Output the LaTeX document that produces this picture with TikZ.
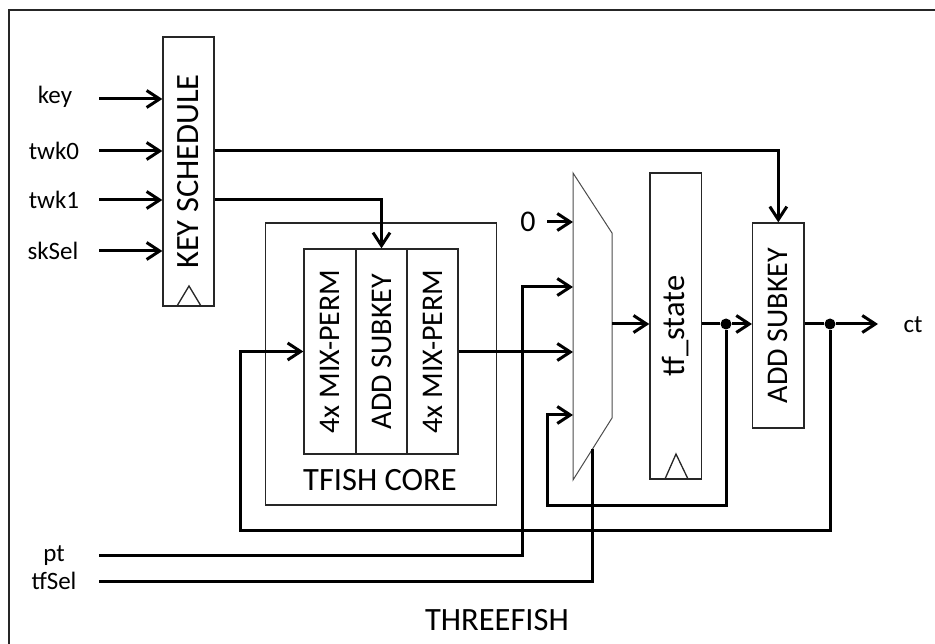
\documentclass[tikz,border=0pt]{standalone}
\usepackage{fontspec}
\setmainfont{Carlito}
\usetikzlibrary{arrows.meta}
\begin{document}
\begin{tikzpicture}[x=1pt,y=-1pt,
  box/.style={draw=black!85,line width=1.3pt,inner sep=0pt},
  thinline/.style={draw=black!85,line width=1.3pt},
  muxline/.style={draw=black!70,line width=1pt},
  wire/.style={line width=3pt},
  arr/.style={wire,-{Straight Barb[length=13pt,width=17pt]}},
  big/.style={font=\fontsize{32.5}{36}\selectfont,inner sep=0pt},
  mid/.style={font=\fontsize{30}{33}\selectfont,inner sep=0pt},
  small/.style={font=\fontsize{25}{28}\selectfont,inner sep=0pt},
  jdot/.style={circle,fill=black,inner sep=0pt,minimum size=11pt},
]
\useasboundingbox (0,0) rectangle (935,644);
% outer frame (only top and left visible)
\draw[line width=1.5pt,black!85] (935,10) -- (9,10) -- (9,644);

% key schedule
\node[box,minimum width=51pt,minimum height=269pt] (ks) at (188.5,171.5) {};
\node[big,rotate=90] (kst) at (ks.center) {KEY SCHEDULE};
\draw[thinline] (177,306) -- (189,286) -- (201,306);

% input labels
\node[small] (keyl) at (55,97) {key};
\node[small] (tw0l) at (54,151) {twk0};
\node[small] (tw1l) at (54,200) {twk1};
\node[small] (skl) at (53,251) {skSel};
\coordinate (keys) at (99,99);
\coordinate (tw0s) at (99,151);
\coordinate (tw1s) at (99,200);
\coordinate (sks) at (99,251);
\draw[arr] (keys) -- (keys -| ks.west);
\draw[arr] (tw0s) -- (tw0s -| ks.west);
\draw[arr] (tw1s) -- (tw1s -| ks.west);
\draw[arr] (sks) -- (sks -| ks.west);

% TFISH core
\node[box,minimum width=231pt,minimum height=282pt] (core) at (381.2,364) {};
\node[box,minimum width=52pt,minimum height=205pt] (c1) at (330,351.5) {};
\node[box,minimum width=51pt,minimum height=205pt] (c2) at (381.5,351.5) {};
\node[box,minimum width=51pt,minimum height=205pt] (c3) at (432.5,351.5) {};
\node[mid,rotate=90] (c1t) at (c1.center) {4x MIX-PERM};
\node[mid,rotate=90] (c2t) at (c2.center) {ADD SUBKEY};
\node[mid,rotate=90] (c3t) at (c3.center) {4x MIX-PERM};
\node[big] (coret) at (380,480) {TFISH CORE};

% mux
\draw[muxline] (573,173) -- (612,233) -- (612,418) -- (573,480) -- cycle;
\coordinate (m0) at (573,222);
\coordinate (m1) at (573,287);
\coordinate (m2) at (573,352);
\coordinate (m3) at (573,415);
\coordinate (mout) at (612,324);
\coordinate (msel) at (592,449);
\node[mid] (zero) at (528,222) {0};
\coordinate (zs) at (547,222);
\draw[arr] (zs) -- (m0);

% tf_state register
\node[box,minimum width=51.7pt,minimum height=306pt] (tf) at (675.8,326) {};
\node[big,rotate=90] (tft) at (tf.center) {tf\_state};
\draw[thinline] (665,479) -- (676,454) -- (688,479);

% output add subkey
\node[box,minimum width=51.3pt,minimum height=205pt] (ask) at (778.3,325.5) {};
\node[mid,rotate=90] (askt) at (ask.center) {ADD SUBKEY};

% junction dots
\node[jdot] (dA) at (726,324) {};
\node[jdot] (dB) at (830,324) {};

% bottom inputs
\node[small] (ptl) at (54,556) {pt};
\node[small] (tfsl) at (54,581) {tfSel};
\coordinate (pts) at (99,555);
\coordinate (ptc) at (522,555);
\coordinate (tfss) at (99,581);

% wires
\draw[arr] (ks.east |- tw0s) -| (ask.north);
\draw[arr] (ks.east |- tw1s) -| (c2.north);
\draw[arr] (c3.east |- m2) -- (m2);
\draw[arr] (pts) -- (ptc) |- (m1);
\draw[wire] (tfss) -| (msel);
\draw[arr] (mout) -- (mout -| tf.west);
\draw[wire] (tf.east |- dA) -- (dA);
\draw[arr] (dA) -- (dA -| ask.west);
\coordinate (fbc) at (547,505);
\draw[arr] (dA) |- (fbc) |- (m3);
\draw[wire] (ask.east |- dB) -- (dB);
\coordinate (cte) at (878,324);
\draw[arr] (dB) -- (cte);
\node[small] (ctl) at (913,325) {ct};
\coordinate (loopc) at (240,530);
\draw[arr] (dB) |- (loopc) |- (c1.west);

\node[big] (title) at (497,620) {THREEFISH};
\end{tikzpicture}
\end{document}
